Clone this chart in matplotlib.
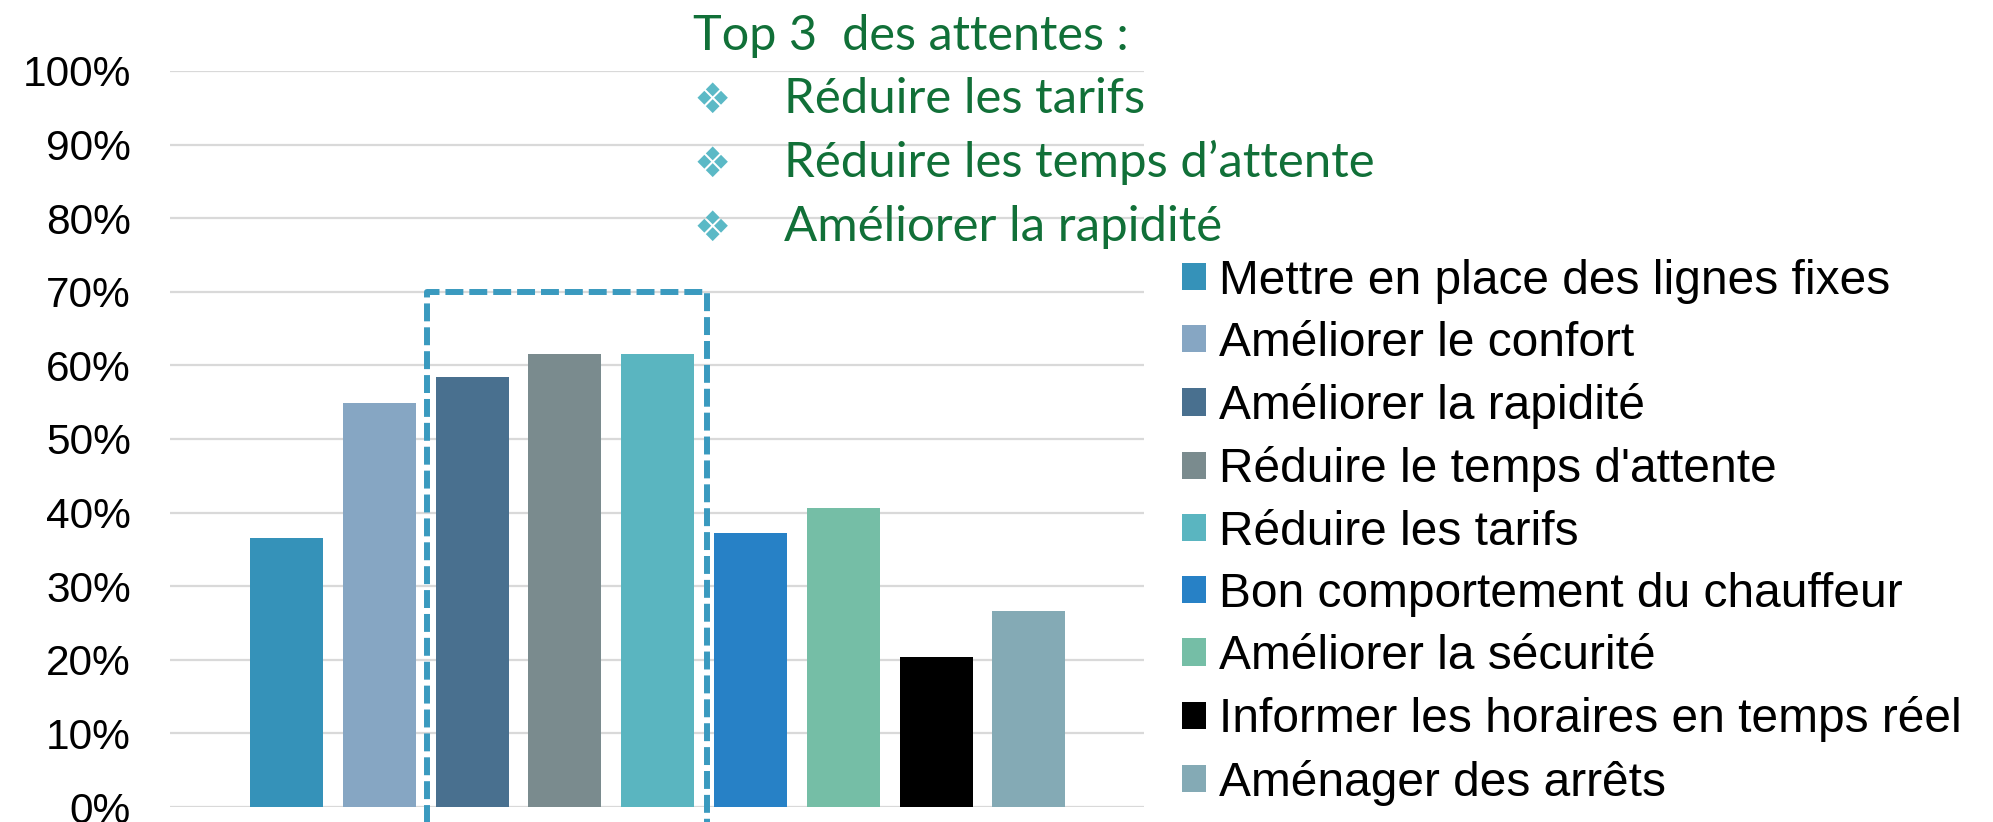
import matplotlib
matplotlib.use("Agg")
import matplotlib.pyplot as plt
from matplotlib.lines import Line2D
from matplotlib.ticker import PercentFormatter

categories = [
    "Mettre en place des lignes fixes",
    "Améliorer le confort",
    "Améliorer la rapidité",
    "Réduire le temps d'attente",
    "Réduire les tarifs",
    "Bon comportement du chauffeur",
    "Améliorer la sécurité",
    "Informer les horaires en temps réel",
    "Aménager des arrêts",
]
values = [0.366, 0.549, 0.584, 0.616, 0.616, 0.372, 0.406, 0.204, 0.266]
colors = ["#3592b9", "#86a6c3", "#49708f", "#7a8b8e", "#5ab5c0",
          "#2781c6", "#75bea6", "#000000", "#84aab5"]
top_title = "Top 3  des attentes :"
top_items = ["Réduire les tarifs", "Réduire les temps d\u2019attente", "Améliorer la rapidité"]

W, H = 1993, 822
fig = plt.figure(figsize=(W / 100, H / 100), dpi=100)
plt.rcParams['font.family'] = ['Liberation Sans', 'DejaVu Sans']

ax_left, ax_right, ax_top, ax_bot = 170, 1144, 71, 807
ax = fig.add_axes([ax_left / W, 1 - ax_bot / H, (ax_right - ax_left) / W, (ax_bot - ax_top) / H])

for i, (v, c, lab) in enumerate(zip(values, colors, categories)):
    ax.bar(i, v, width=0.787, color=c, label=lab, zorder=3)

ax.set_xlim(-1.255, 9.24)
ax.set_ylim(0, 1.0)
ax.set_yticks([i / 10 for i in range(11)])
ax.yaxis.set_major_formatter(PercentFormatter(1.0, decimals=0))
ax.set_xticks([])
ax.grid(axis='y', color='#d9d9d9', linewidth=1.6, zorder=0)
for s in ax.spines.values():
    s.set_visible(False)
ax.tick_params(axis='y', length=0, pad=28, labelsize=30.5, labelcolor='black')

# dashed highlight box around top-3
bx0, bx1, by0, by1 = 1.514, 4.53, -0.05, 0.70
ax.add_line(Line2D([bx0, bx0, bx1, bx1], [by0, by1, by1, by0], color='#3a9abf',
                   linewidth=4.3, linestyle=(0, (3.0, 1.0)), clip_on=False, zorder=4,
                   solid_joinstyle='miter', dash_capstyle='butt'))

leg = fig.legend(loc='center left', bbox_to_anchor=(1182 / W, 1 - 532 / H),
                 frameon=False, fontsize=34.5, handlelength=0.5, handleheight=0.5,
                 handletextpad=0.28, labelspacing=0.36, borderpad=0, borderaxespad=0)

green = '#117038'
tfam = ['Lato', 'DejaVu Sans']
fig.text(693 / W, 1 - 50 / H, top_title, color=green, fontsize=35, family=tfam, va='baseline', ha='left')
for k, item in enumerate(top_items):
    yb = 113 + 64 * k
    fig.text(694 / W, 1 - (yb - 12) / H, "\u2756", color='#5bb9c6', fontsize=30,
             family=['DejaVu Sans'], va='center', ha='left')
    fig.text(784 / W, 1 - yb / H, item, color=green, fontsize=35.4, family=tfam, va='baseline', ha='left')

fig.savefig("out.png", dpi=100)
